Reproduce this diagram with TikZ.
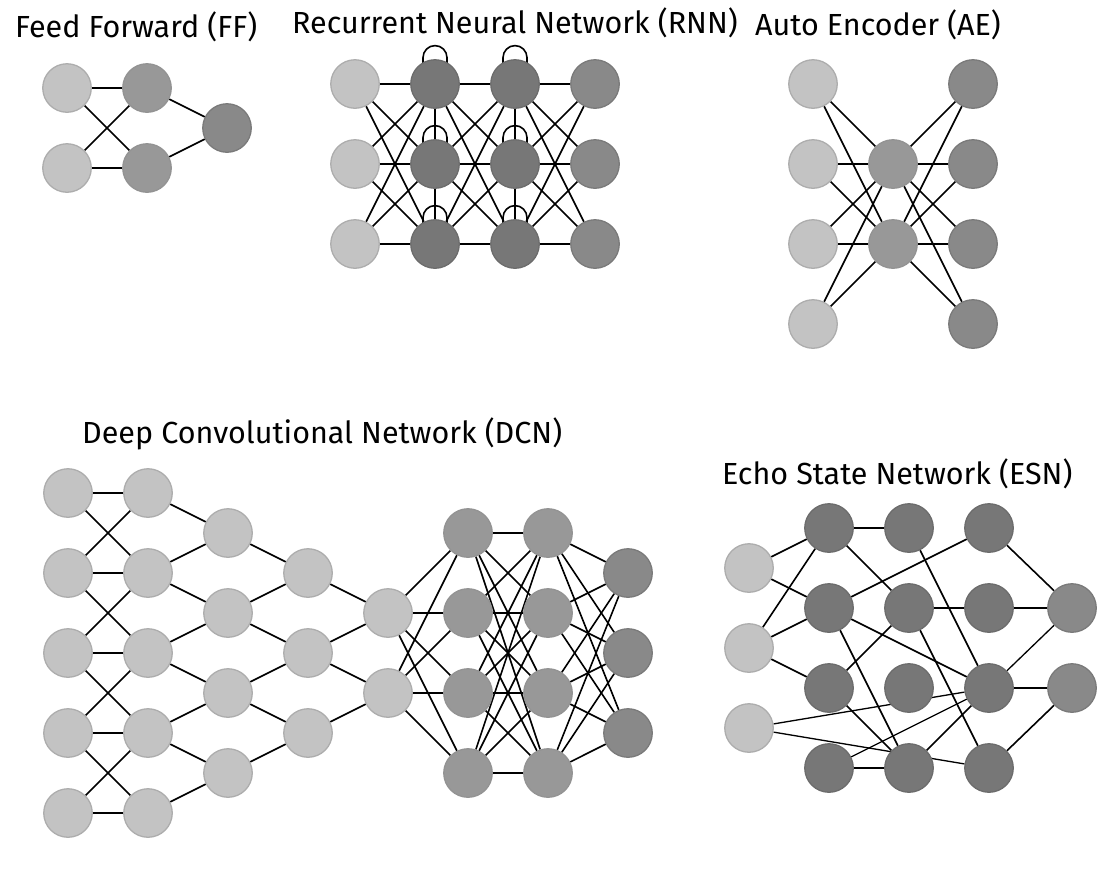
\documentclass[tikz,border=0pt]{standalone}
\usepackage{fontspec}
\setmainfont{Fira Sans}
\usetikzlibrary{backgrounds}
\definecolor{inpfill}{HTML}{C3C3C3}
\definecolor{inpdraw}{HTML}{ADADAD}
\definecolor{hidfill}{HTML}{989898}
\definecolor{hiddraw}{HTML}{939393}
\definecolor{outfill}{HTML}{898989}
\definecolor{outdraw}{HTML}{7A7A7A}
\definecolor{recfill}{HTML}{777777}
\definecolor{recdraw}{HTML}{6C6C6C}
\tikzset{
  nd/.style={circle, minimum size=48.5pt, inner sep=0pt, line width=1.3pt},
  inp/.style={nd, fill=inpfill, draw=inpdraw},
  hid/.style={nd, fill=hidfill, draw=hiddraw},
  outn/.style={nd, fill=outfill, draw=outdraw},
  rec/.style={nd, fill=recfill, draw=recdraw},
  ed/.style={line width=1.6pt, black},
  thin ed/.style={line width=1.3pt, black},
  ttl/.style={anchor=base west, inner sep=0pt, font=\fontsize{30.5}{34}\selectfont}
}
\begin{document}
\begin{tikzpicture}[x=1pt,y=-1pt]
\useasboundingbox (0,0) rectangle (1110,868);

% ---------------- Titles
\node[ttl] (tff) at (15,37) {Feed Forward (FF)};
\node[ttl] (trnn) at (292,33) {Recurrent Neural Network (RNN)};
\node[ttl] (tae) at (755,35) {Auto Encoder (AE)};
\node[ttl] (tdcn) at (82,443) {Deep Convolutional Network (DCN)};
\node[ttl] (tesn) at (722,484) {Echo State Network (ESN)};

% ---------------- Feed Forward
\node[inp] (ffi1) at (67,88) {};
\node[inp] (ffi2) at (67,168) {};
\node[hid] (ffh1) at (147,88) {};
\node[hid] (ffh2) at (147,168) {};
\node[outn] (ffo) at (227,128) {};
\begin{pgfonlayer}{background}
\foreach \a in {1,2}{\foreach \b in {1,2}{\draw[ed] (ffi\a) -- (ffh\b);}}
\foreach \a in {1,2}{\draw[ed] (ffh\a) -- (ffo);}
\end{pgfonlayer}

% ---------------- RNN
\foreach \r/\y in {1/84,2/164,3/244}{
  \node[inp] (ri\r) at (355,\y) {};
  \node[rec] (ra\r) at (435,\y) {};
  \node[rec] (rb\r) at (515,\y) {};
  \node[outn] (ro\r) at (595,\y) {};
}
\begin{pgfonlayer}{background}
\foreach \a in {1,2,3}{\foreach \b in {1,2,3}{
  \draw[ed] (ri\a) -- (ra\b);
  \draw[ed] (ra\a) -- (rb\b);
  \draw[ed] (rb\a) -- (ro\b);
}}
\draw[ed] (ra1) -- (ra2); \draw[ed] (ra2) -- (ra3);
\draw[ed] (rb1) -- (rb2); \draw[ed] (rb2) -- (rb3);
\foreach \n in {ra1,ra2,ra3,rb1,rb2,rb3}{
  \draw[ed] (\n.north) ++(-12pt,-4pt) -- ++(0pt,5.5pt) arc[start angle=180,end angle=0,radius=12pt] -- ++(0pt,-5.5pt);
}
\end{pgfonlayer}

% ---------------- Auto Encoder
\foreach \r/\y in {1/84,2/164,3/244,4/324}{
  \node[inp] (ai\r) at (813,\y) {};
  \node[outn] (ao\r) at (973,\y) {};
}
\node[hid] (ah1) at (893,164) {};
\node[hid] (ah2) at (893,244) {};
\begin{pgfonlayer}{background}
\foreach \a in {1,2,3,4}{\foreach \b in {1,2}{
  \draw[ed] (ai\a) -- (ah\b);
  \draw[ed] (ah\b) -- (ao\a);
}}
\end{pgfonlayer}

% ---------------- Deep Convolutional Network
\foreach \r/\y in {1/493,2/573,3/653,4/733,5/813}{
  \node[inp] (d1\r) at (68,\y) {};
  \node[inp] (d2\r) at (148,\y) {};
}
\foreach \r/\y in {1/533,2/613,3/693,4/773}{
  \node[inp] (d3\r) at (228,\y) {};
  \node[hid] (d6\r) at (468,\y) {};
  \node[hid] (d7\r) at (548,\y) {};
}
\foreach \r/\y in {1/573,2/653,3/733}{
  \node[inp] (d4\r) at (308,\y) {};
  \node[outn] (d8\r) at (628,\y) {};
}
\node[inp] (d51) at (388,613) {};
\node[inp] (d52) at (388,693) {};
\begin{pgfonlayer}{background}
\foreach \a in {1,...,5}{\draw[ed] (d1\a) -- (d2\a);}
\foreach \a/\b in {1/2,2/3,3/4,4/5}{\draw[ed] (d1\a) -- (d2\b); \draw[ed] (d1\b) -- (d2\a);}
\foreach \a in {1,...,4}{\pgfmathtruncatemacro{\c}{\a+1}\draw[ed] (d3\a) -- (d2\a); \draw[ed] (d3\a) -- (d2\c);}
\foreach \a in {1,2,3}{\pgfmathtruncatemacro{\c}{\a+1}\draw[ed] (d4\a) -- (d3\a); \draw[ed] (d4\a) -- (d3\c);}
\foreach \a in {1,2}{\pgfmathtruncatemacro{\c}{\a+1}\draw[ed] (d5\a) -- (d4\a); \draw[ed] (d5\a) -- (d4\c);}
\foreach \a in {1,2}{\foreach \b in {1,...,4}{\draw[ed] (d5\a) -- (d6\b);}}
\foreach \a in {1,...,4}{\foreach \b in {1,...,4}{\draw[ed] (d6\a) -- (d7\b);}}
\foreach \a in {1,...,4}{\foreach \b in {1,2,3}{\draw[ed] (d7\a) -- (d8\b);}}
\end{pgfonlayer}

% ---------------- Echo State Network
\node[inp] (ei1) at (749,568) {};
\node[inp] (ei2) at (749,648) {};
\node[inp] (ei3) at (749,728) {};
\foreach \r/\y in {1/528,2/608,3/688,4/768}{
  \node[rec] (ea\r) at (829,\y) {};
  \node[rec] (eb\r) at (909,\y) {};
  \node[rec] (ec\r) at (989,\y) {};
}
\node[outn] (eo1) at (1072,608) {};
\node[outn] (eo2) at (1072,688) {};
\begin{pgfonlayer}{background}
\foreach \p/\q in {ei1/ea1, ei1/ea2, ei2/ea1, ei2/ea2, ei2/ea3,
  ea1/eb1, ea1/eb2, ea2/ec1, ea2/ec3, ea2/eb4, ea3/eb4, ea4/eb4,
  eb1/ec3, eb2/ec2, eb2/ea3, eb2/ec4, eb4/ec3,
  ec1/eo1, ec2/eo1, ec3/eo2, ec4/eo2}{\draw[ed] (\p) -- (\q);}
\foreach \p/\q in {ei3/ec3, ei3/ec4, ea4/ec3, ec3/eo1}{\draw[thin ed] (\p) -- (\q);}
\end{pgfonlayer}
\end{tikzpicture}
\end{document}
